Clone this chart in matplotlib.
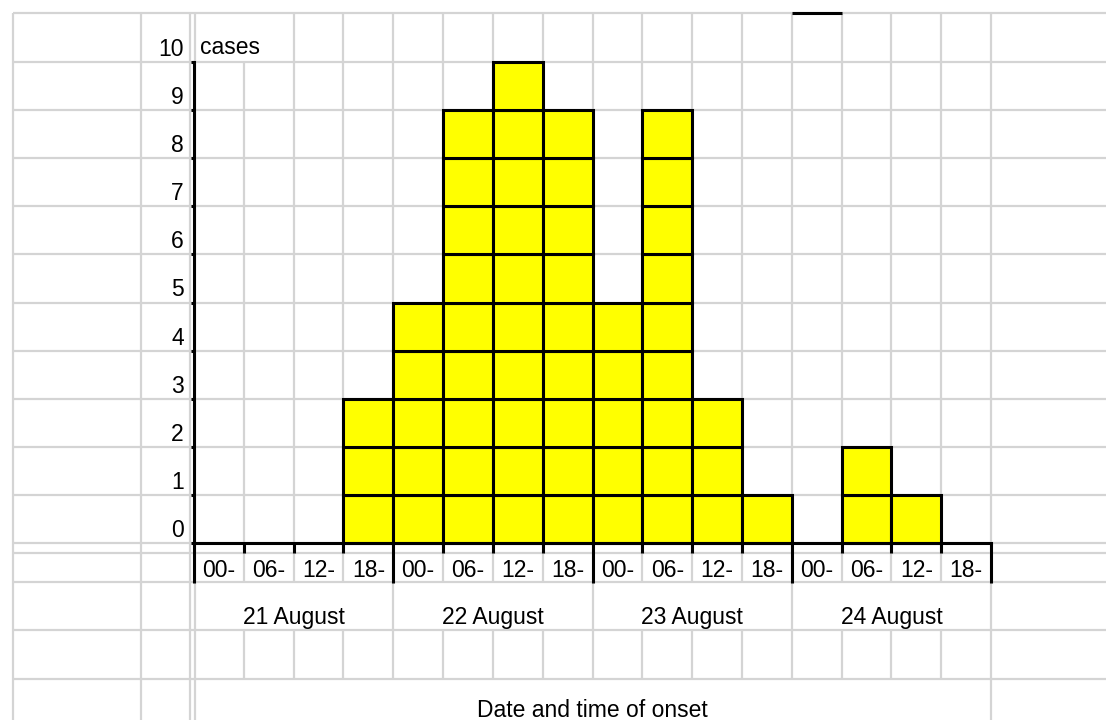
import matplotlib.pyplot as plt
import matplotlib.transforms as mtransforms

# onset counts per 6-hour block, 21-24 August
days = ['21 August', '22 August', '23 August', '24 August']
hours = ['00-', '06-', '12-', '18-']
cases = [0, 0, 0, 3,
         5, 9, 10, 9,
         5, 9, 3, 1,
         0, 2, 1, 0]
y_ticks = list(range(0, 11))

plt.rcParams['font.family'] = ['Liberation Sans', 'DejaVu Sans']
FS = 16.5
GRID = '#d4d4d4'
GLW = 1.6
YELLOW = '#ffff00'

W, H = 1106, 720
fig = plt.figure(figsize=(W / 100, H / 100), dpi=100)

# spreadsheet background, pixel coordinates
bg = fig.add_axes([0, 0, 1, 1])
bg.set_xlim(0, W)
bg.set_ylim(H, 0)
bg.axis('off')

x0, x1 = 194, 991          # plot area left/right
y0, y1 = 543, 62           # plot area bottom (0) / top (10)
cw = (x1 - x0) / len(cases)
rh = (y0 - y1) / 10

rows = [13] + [y1 + rh * k for k in range(11)] + [553, 582, 630, 679]
for y in rows:
    bg.plot([13, W], [y, y], color=GRID, lw=GLW, solid_capstyle='butt')

for x in [13, 141, 190, 194.5]:
    bg.plot([x, x], [13, H], color=GRID, lw=GLW, solid_capstyle='butt')
for k in range(1, len(cases) + 1):
    x = x0 + cw * k
    if k == len(cases):
        segs = [(13, H)]
    elif k % 4 == 0:
        segs = [(13, 679)]
    elif k == 1:
        segs = [(62, 582), (630, 679)]
    else:
        segs = [(13, 582), (630, 679)]
    for a, b in segs:
        bg.plot([x, x], [a, b], color=GRID, lw=GLW, solid_capstyle='butt')

# stray cell border at the top
bg.plot([x0 + cw * 12, x0 + cw * 13], [13, 13], color='black', lw=2.2,
        solid_capstyle='butt')

# chart
ax = fig.add_axes([x0 / W, (H - y0) / H, (x1 - x0) / W, (y0 - y1) / H])
ax.set_facecolor('none')
ax.set_xlim(0, len(cases))
ax.set_ylim(0, 10)

for i, c in enumerate(cases):
    for j in range(c):
        ax.bar(i, 1, width=1, bottom=j, align='edge', color=YELLOW,
               edgecolor='black', linewidth=2.2, clip_on=False, zorder=3)

for s in ['top', 'right']:
    ax.spines[s].set_visible(False)
for s in ['left', 'bottom']:
    ax.spines[s].set_linewidth(2.2)
    ax.spines[s].set_zorder(4)

ax.set_xticks(range(0, len(cases) + 1, 4))
ax.set_xticks(range(0, len(cases) + 1), minor=True)
ax.tick_params(axis='x', which='major', length=28.5, width=2.2,
               labelbottom=False)
ax.tick_params(axis='x', which='minor', length=7.2, width=2.2)
ax.set_yticks(y_ticks)
ax.tick_params(axis='y', length=2.5, width=2.2, labelleft=False)

trans = mtransforms.blended_transform_factory(ax.transData, bg.transData)
for i in range(len(cases)):
    ax.text(i + 0.5, 577, hours[i % 4], transform=trans, ha='center',
            va='baseline', fontsize=FS)
for d, name in enumerate(days):
    ax.text(d * 4 + 2, 624, name, transform=trans, ha='center',
            va='baseline', fontsize=FS)
ax.text(len(cases) / 2, 717, 'Date and time of onset', transform=trans,
        ha='center', va='baseline', fontsize=FS)

for k in y_ticks:
    ax.annotate(str(k), xy=(0, k), xytext=(-10, 6),
                textcoords='offset pixels', ha='right', va='baseline',
                fontsize=FS, annotation_clip=False)
ax.annotate('cases', xy=(0, 10), xytext=(6, 8), textcoords='offset pixels',
            ha='left', va='baseline', fontsize=FS, annotation_clip=False)

fig.savefig('out.png', dpi=100)
